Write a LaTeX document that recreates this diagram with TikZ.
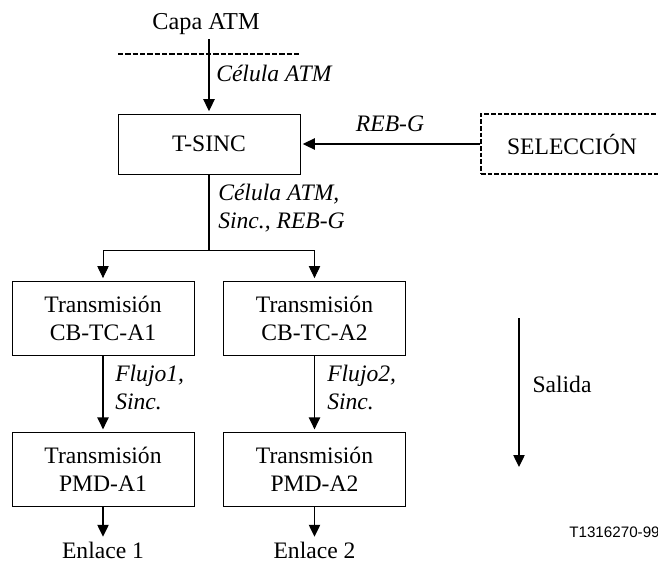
\documentclass[tikz,border=0pt]{standalone}
\usepackage{fontspec}
\setmainfont{Liberation Serif}
\newfontfamily\helv{Liberation Sans}
\usetikzlibrary{arrows.meta}
\tikzset{
 x=0.75pt,y=-0.75pt,
 box/.style={draw,line width=0.6pt,minimum width=136.5pt,align=center,font=\fontsize{17.7}{21}\selectfont,inner sep=0pt},
 dbox/.style={box,dashed,line width=1pt,dash pattern=on 3.4pt off 1.6pt},
 txt/.style={font=\fontsize{17.7}{21}\selectfont,inner sep=0pt,align=center},
 lab/.style={font=\itshape\fontsize{17.7}{21}\selectfont,inner sep=0pt,align=left,anchor=west},
 conn/.style={line width=1pt},
 thinconn/.style={line width=0.7pt},
 arr/.style={conn,shorten >=1.8pt,-{Triangle[length=9pt,width=8.5pt]}},
 thinarr/.style={thinconn,shorten >=2pt,-{Triangle[length=9pt,width=8.5pt]}},
 endarr/.style={conn,shorten >=3.5pt,-{Triangle[length=9pt,width=8.5pt]}},
}
\begin{document}
\begin{tikzpicture}
\useasboundingbox (0,0) rectangle (658,561);
\clip (0,0) rectangle (658,561);
\node[txt,font=\fontsize{18.2}{21}\selectfont] (capa) at (206,24) {Capa ATM};
\coordinate (top) at (209,39);
\coordinate (dl) at (118,54);
\coordinate (dr) at (300,54);
\draw[conn,dashed,dash pattern=on 4pt off 1.5pt] (dl) -- (dr);
\node[box,minimum height=45pt] (tsinc) at (209,144) {T-SINC};
\node[dbox,minimum height=45pt,minimum width=138pt] (sel) at (573,144) {};
\node[txt] (seltxt) at (572,144) {SELECCIÓN};
\node[box,minimum height=56pt] (cb1) at (103,318.5) {Transmisión\\CB-TC-A1};
\node[box,minimum height=56pt] (cb2) at (314.5,318.5) {Transmisión\\CB-TC-A2};
\node[box,minimum height=56pt] (pmd1) at (103,469.5) {Transmisión\\PMD-A1};
\node[box,minimum height=56pt] (pmd2) at (314.5,469.5) {Transmisión\\PMD-A2};
\node[txt] (en1) at (103,550) {Enlace 1};
\node[txt] (en2) at (314.5,550) {Enlace 2};
\node[lab] at (216,73) {Célula ATM};
\node[lab,anchor=center] at (390,124) {REB-G};
\node[lab] at (218,208) {Célula ATM,\\Sinc., REB-G};
\node[lab] at (115,387) {Flujo1,\\Sinc.};
\node[lab] at (327,387) {Flujo2,\\Sinc.};
\node[txt] at (562,384) {Salida};
\node[font=\helv\fontsize{11.4}{12}\selectfont,inner sep=0pt,anchor=west] at (569,532) {T1316270-99};
\coordinate (sp) at (209,250);
\coordinate (spl) at (103,250);
\coordinate (spr) at (314.5,250);
\coordinate (sa) at (519,318);
\coordinate (sb) at (519,467);
\draw[arr] (top) -- (tsinc.north);
\draw[arr] (sel.west) -- (tsinc.east);
\draw[conn] (tsinc.south) -- (sp);
\draw[thinarr] (sp) -- (spl) -- (cb1.north);
\draw[thinarr] (sp) -- (spr) -- (cb2.north);
\draw[arr] (cb1.south) -- (pmd1.north);
\draw[arr] (cb2.south) -- (pmd2.north);
\draw[endarr] (pmd1.south) -- (en1.north);
\draw[endarr] (pmd2.south) -- (en2.north);
\draw[conn,-{Triangle[length=9pt,width=8.5pt]}] (sa) -- (sb);
\end{tikzpicture}
\end{document}
